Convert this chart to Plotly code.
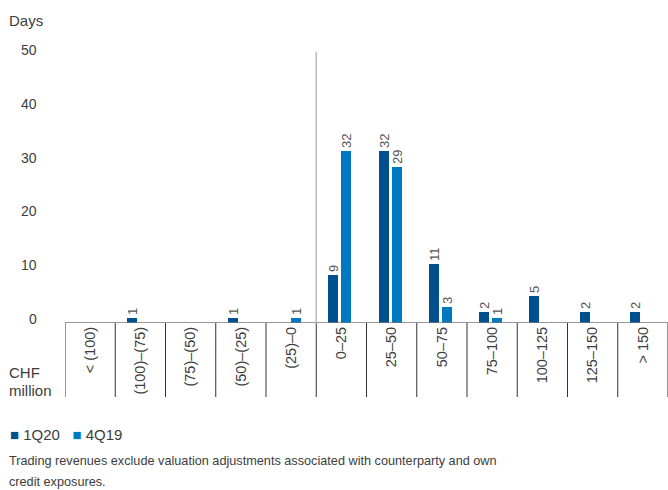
import plotly.graph_objects as go

categories = ["< (100)", "(100)–(75)", "(75)–(50)", "(50)–(25)", "(25)–0", "0–25",
              "25–50", "50–75", "75–100", "100–125", "125–150", "> 150"]
days_1q20 = [0, 1, 0, 1, 0, 9, 32, 11, 2, 5, 2, 2]
days_4q19 = [0, 0, 0, 0, 1, 32, 29, 3, 1, 0, 0, 0]
y_ticks = [0, 10, 20, 30, 40, 50]
series_names = ["1Q20", "4Q19"]
footnote = ["Trading revenues exclude valuation adjustments associated with counterparty and own",
            "credit exposures."]

DARK = "#00508E"
LIGHT = "#0078C1"
TXT = "#3d3d3d"
FONT = "Liberation Sans"

W, H = 668, 490
ML, MT, MB = 65, 52, 167
PH = H - MT - MB


def py(pix):
    """pixel row -> paper y"""
    return (H - MB - pix) / PH


def px(pix):
    return (pix - ML) / (W - ML)


fig = go.Figure()
for name, vals, col, off in [(series_names[0], days_1q20, DARK, -0.26),
                             (series_names[1], days_4q19, LIGHT, 0.0)]:
    fig.add_trace(go.Bar(
        x=list(range(len(categories))), y=vals, name=name,
        marker=dict(color=col, line=dict(width=0)),
        width=0.2, offset=off,
        text=[str(v) if v else "" for v in vals],
        textposition="outside", textangle=-90,
        textfont=dict(size=13, color="#555555", family=FONT),
        cliponaxis=False, showlegend=False, hoverinfo="skip",
    ))

fig.update_layout(
    width=W, height=H,
    margin=dict(l=ML, r=0, t=MT, b=MB),
    plot_bgcolor="white", paper_bgcolor="white",
    font=dict(family=FONT, color=TXT, size=13),
    uniformtext=dict(minsize=13, mode="show"),
    bargap=0, showlegend=False,
    xaxis=dict(tickmode="array", tickvals=list(range(len(categories))),
               ticktext=categories, tickangle=-90, range=[-0.5, len(categories) - 0.5],
               showgrid=False, zeroline=False, showline=False, ticks="",
               tickfont=dict(size=14.5, color=TXT)),
    yaxis=dict(range=[0, 50.4], showgrid=False, zeroline=False, showline=False,
               showticklabels=False, ticks=""),
)

# axis baseline
fig.add_shape(type="line", xref="paper", yref="y", x0=0, x1=1, y0=0, y1=0,
              line=dict(color="#777777", width=1.5))
# category dividers below the axis
for i in range(len(categories) + 1):
    fig.add_shape(type="line", xref="x", yref="paper", x0=i - 0.5, x1=i - 0.5,
                  y0=0, y1=py(397), line=dict(color="#333333", width=1))
# separator between negative and positive ranges
sep = categories.index("0–25") - 0.5
fig.add_shape(type="line", xref="x", yref="paper", x0=sep, x1=sep, y0=0, y1=1,
              line=dict(color="#BBBBBB", width=1.5))

# y tick labels
for t in y_ticks:
    fig.add_annotation(x=px(39), xref="paper", y=t, yref="y", yshift=4,
                       text=str(t), showarrow=False, xanchor="right",
                       font=dict(size=14, color=TXT))

fig.add_annotation(x=px(7), xref="paper", y=py(20), yref="paper", text="Days",
                   showarrow=False, xanchor="left", yanchor="middle",
                   font=dict(size=15, color=TXT))
fig.add_annotation(x=px(7), xref="paper", y=py(372), yref="paper", text="CHF",
                   showarrow=False, xanchor="left", yanchor="middle",
                   font=dict(size=15, color=TXT))
fig.add_annotation(x=px(7), xref="paper", y=py(390), yref="paper", text="million",
                   showarrow=False, xanchor="left", yanchor="middle",
                   font=dict(size=15, color=TXT))

# legend
legend_txt = (f"<span style='color:{DARK}'>■</span> {series_names[0]}"
              f"&nbsp;&nbsp;&nbsp;<span style='color:{LIGHT}'>■</span> {series_names[1]}")
fig.add_annotation(x=px(8), xref="paper", y=py(434), yref="paper", text=legend_txt,
                   showarrow=False, xanchor="left", yanchor="middle",
                   font=dict(size=15, color=TXT))

# footnote
for line, yp in zip(footnote, [461, 482]):
    fig.add_annotation(x=px(7), xref="paper", y=py(yp), yref="paper", text=line,
                       showarrow=False, xanchor="left", yanchor="middle",
                       font=dict(size=12.7, color=TXT))

fig.write_html("out.html", config={"displayModeBar": False},
               post_script="document.body.style.margin='0';document.body.style.overflow='hidden';")
